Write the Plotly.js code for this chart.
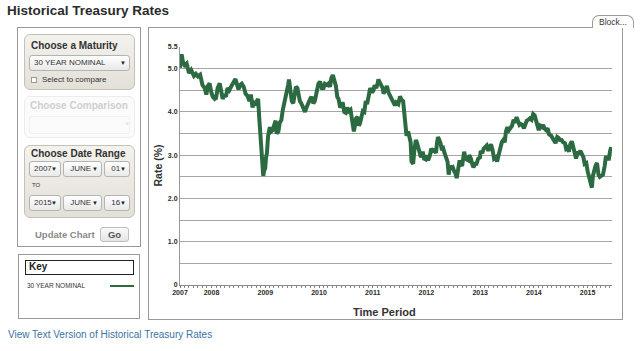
<!DOCTYPE html>
<html>
<head>
<meta charset="utf-8">
<script src="https://cdn.plot.ly/plotly-3.0.1.min.js"></script>
<style>
  html, body { margin:0; padding:0; background:#fff; }
  body { width:640px; height:351px; position:relative; overflow:hidden; font-family:"Liberation Sans", Arial, sans-serif; color:#333; }
  .abs { position:absolute; box-sizing:border-box; }
  #title { left:7px; top:3px; font-size:13.5px; font-weight:bold; color:#2b2b2b; white-space:nowrap; }
  #side { left:17px; top:27px; width:124px; height:220px; border:1px solid #9a9a9a; }
  #chartbox { left:148px; top:27px; width:475px; height:293px; border:1px solid #9a9a9a; }
  #tab { left:592px; top:15px; width:42px; height:13px; border:1px solid #9a9a9a; border-bottom:none; border-radius:7px 7px 0 0; background:#fff; font-size:8.5px; text-align:center; line-height:12px; color:#333; }
  .panel { border:1px solid #c4c1b8; border-radius:6px; background:linear-gradient(#f4f2ed,#e3e0d8); }
  .panel.off { border-color:#ececec; background:#fbfbfb; }
  .ph { font-size:10px; font-weight:bold; color:#333; white-space:nowrap; }
  .sel { border:1px solid #b4b4b4; border-radius:3px; background:linear-gradient(#ffffff,#e9e9e9); font-size:8px; line-height:14px; padding-left:4px; color:#333; white-space:nowrap; }
  .sel .ar { position:absolute; right:3px; top:0; font-size:6px; color:#222; }
  .small { font-size:8px; white-space:nowrap; color:#333; }
  #key { left:18px; top:254px; width:122px; height:65px; border:1px solid #9a9a9a; }
  #link { left:8px; top:329px; font-size:10px; color:#3a73a5; white-space:nowrap; }
  #plot { left:0; top:0; width:640px; height:351px; }
</style>
</head>
<body>
<div class="abs" id="title">Historical Treasury Rates</div>
<div class="abs" id="side"></div>
<div class="abs" id="chartbox"></div>
<div class="abs" id="tab">Block...</div>

<div class="abs panel" style="left:24px;top:34px;width:111px;height:56px;"></div>
<div class="abs ph" style="left:31px;top:40px;">Choose a Maturity</div>
<div class="abs sel" style="left:29px;top:55px;width:101px;height:16px;">30 YEAR NOMINAL<span class="ar">&#9660;</span></div>
<div class="abs" style="left:31px;top:77px;width:6px;height:6px;border:1px solid #999;background:#fff;"></div>
<div class="abs small" style="left:42px;top:75px;">Select to compare</div>

<div class="abs panel off" style="left:24px;top:96px;width:111px;height:42px;"></div>
<div class="abs ph" style="left:30px;top:100px;color:#cfcfcf;">Choose Comparison</div>
<div class="abs" style="left:29px;top:116px;width:101px;height:18px;border:1px solid #f0f0f0;border-radius:3px;"></div>
<div class="abs" style="left:124px;top:121px;font-size:6px;color:#e4e4e4;">&#9660;</div>

<div class="abs panel" style="left:24px;top:145px;width:111px;height:73px;"></div>
<div class="abs ph" style="left:31px;top:148px;">Choose Date Range</div>
<div class="abs sel" style="left:29px;top:161px;width:32px;height:16px;">2007<span class="ar">&#9660;</span></div>
<div class="abs sel" style="left:63px;top:161px;width:39px;height:16px;">&nbsp;JUNE<span class="ar">&#9660;</span></div>
<div class="abs sel" style="left:104px;top:161px;width:26px;height:16px;">&nbsp;01<span class="ar">&#9660;</span></div>
<div class="abs" style="left:32px;top:182px;font-size:6px;color:#333;">TO</div>
<div class="abs sel" style="left:29px;top:195px;width:32px;height:16px;">2015<span class="ar">&#9660;</span></div>
<div class="abs sel" style="left:63px;top:195px;width:39px;height:16px;">&nbsp;JUNE<span class="ar">&#9660;</span></div>
<div class="abs sel" style="left:104px;top:195px;width:26px;height:16px;">&nbsp;16<span class="ar">&#9660;</span></div>

<div class="abs" style="left:35px;top:229px;font-size:9.5px;font-weight:bold;color:#8a8a8a;white-space:nowrap;">Update Chart</div>
<div class="abs" style="left:100px;top:227px;width:29px;height:15px;border:1px solid #bdbdbd;border-radius:3px;background:linear-gradient(#fafafa,#e4e4e4);font-size:9.5px;font-weight:bold;color:#555;text-align:center;line-height:14px;">Go</div>

<div class="abs" id="key"></div>
<div class="abs" style="left:25px;top:260px;width:109px;height:15px;border:1.5px solid #222;"></div>
<div class="abs" style="left:29px;top:261px;font-size:10px;font-weight:bold;color:#222;">Key</div>
<div class="abs" style="left:27px;top:282px;font-size:6.5px;color:#333;white-space:nowrap;">30 YEAR NOMINAL</div>
<div class="abs" style="left:110px;top:285px;width:24px;height:2px;background:#2d6b41;"></div>

<div class="abs" id="link">View Text Version of Historical Treasury Rates</div>

<div class="abs" id="plot"></div>

<script>
// ---- data (30 year nominal, %) ----
const dates = [
'2007-06-01','2007-06-12','2007-06-22','2007-07-02','2007-07-16','2007-08-01','2007-08-16','2007-09-04','2007-09-17','2007-10-01','2007-10-16','2007-11-01','2007-11-16','2007-11-27','2007-12-07','2007-12-19','2007-12-31',
'2008-01-10','2008-01-23','2008-02-01','2008-02-12','2008-02-26','2008-03-06','2008-03-17','2008-03-28','2008-04-08','2008-04-19','2008-05-01','2008-05-16','2008-06-01','2008-06-12','2008-06-24','2008-07-03','2008-07-14','2008-07-25','2008-08-07','2008-08-20','2008-09-02','2008-09-15','2008-09-25','2008-10-06','2008-10-15','2008-10-28','2008-11-05','2008-11-13','2008-11-21','2008-11-28','2008-12-05','2008-12-12','2008-12-18','2008-12-24','2008-12-31',
'2009-01-06','2009-01-12','2009-01-20','2009-02-01','2009-02-10','2009-02-20','2009-03-03','2009-03-12','2009-03-19','2009-03-31','2009-04-09','2009-04-20','2009-04-30','2009-05-11','2009-05-26','2009-06-05','2009-06-11','2009-06-19','2009-06-30','2009-07-10','2009-07-20','2009-07-28','2009-08-07','2009-08-14','2009-08-24','2009-09-02','2009-09-15','2009-09-28','2009-10-08','2009-10-20','2009-11-02','2009-11-11','2009-11-23','2009-12-03','2009-12-14','2009-12-28',
'2010-01-08','2010-01-20','2010-02-01','2010-02-10','2010-02-24','2010-03-05','2010-03-17','2010-03-26','2010-04-05','2010-04-15','2010-04-26','2010-05-05','2010-05-14','2010-05-25','2010-06-04','2010-06-11','2010-06-22','2010-07-02','2010-07-12','2010-07-23','2010-08-03','2010-08-11','2010-08-20','2010-08-26','2010-09-03','2010-09-10','2010-09-20','2010-09-30','2010-10-08','2010-10-15','2010-10-26','2010-11-05','2010-11-15','2010-11-24','2010-12-06','2010-12-15','2010-12-28',
'2011-01-07','2011-01-14','2011-01-25','2011-02-03','2011-02-09','2011-02-18','2011-03-01','2011-03-10','2011-03-16','2011-03-30','2011-04-08','2011-04-18','2011-04-28','2011-05-10','2011-05-20','2011-06-01','2011-06-10','2011-06-24','2011-07-06','2011-07-15','2011-07-27','2011-08-04','2011-08-10','2011-08-19','2011-08-30','2011-09-08','2011-09-16','2011-09-22','2011-10-03','2011-10-11','2011-10-21','2011-10-28','2011-11-08','2011-11-17','2011-11-25','2011-12-07','2011-12-16','2011-12-28',
'2012-01-06','2012-01-13','2012-01-24','2012-02-03','2012-02-14','2012-02-24','2012-03-06','2012-03-14','2012-03-20','2012-03-29','2012-04-06','2012-04-16','2012-04-25','2012-05-03','2012-05-14','2012-05-24','2012-06-01','2012-06-08','2012-06-18','2012-06-28','2012-07-09','2012-07-17','2012-07-25','2012-08-03','2012-08-14','2012-08-22','2012-08-31','2012-09-14','2012-09-21','2012-10-01','2012-10-12','2012-10-19','2012-10-30','2012-11-09','2012-11-16','2012-11-28','2012-12-07','2012-12-18','2012-12-31',
'2013-01-04','2013-01-15','2013-01-25','2013-02-04','2013-02-14','2013-02-25','2013-03-07','2013-03-15','2013-03-26','2013-04-05','2013-04-16','2013-04-26','2013-05-06','2013-05-16','2013-05-28','2013-06-07','2013-06-17','2013-06-25','2013-07-05','2013-07-15','2013-07-26','2013-08-05','2013-08-16','2013-08-26','2013-09-05','2013-09-16','2013-09-25','2013-10-04','2013-10-15','2013-10-25','2013-11-04','2013-11-14','2013-11-25','2013-12-05','2013-12-16','2013-12-27',
'2014-01-06','2014-01-13','2014-01-24','2014-02-03','2014-02-13','2014-02-24','2014-03-05','2014-03-14','2014-03-25','2014-04-04','2014-04-15','2014-04-28','2014-05-08','2014-05-16','2014-05-28','2014-06-09','2014-06-18','2014-06-27','2014-07-08','2014-07-18','2014-07-31','2014-08-08','2014-08-15','2014-08-27','2014-09-05','2014-09-16','2014-09-26','2014-10-06','2014-10-15','2014-10-24','2014-11-03','2014-11-13','2014-11-24','2014-12-04','2014-12-12','2014-12-23',
'2015-01-02','2015-01-09','2015-01-16','2015-01-23','2015-01-30','2015-02-06','2015-02-13','2015-02-24','2015-03-06','2015-03-16','2015-03-25','2015-04-06','2015-04-16','2015-04-27','2015-05-06','2015-05-15','2015-05-26','2015-06-03','2015-06-10','2015-06-16'
];
const rates = [
5.02,5.33,5.14,5.08,5.12,4.90,4.97,4.83,4.88,4.82,4.86,4.62,4.55,4.40,4.60,4.66,4.45,
4.35,4.30,4.32,4.55,4.66,4.50,4.30,4.40,4.35,4.55,4.50,4.60,4.70,4.76,4.62,4.52,4.62,4.65,4.58,4.42,4.37,4.25,4.40,4.10,4.25,4.15,4.25,4.30,3.85,3.45,3.05,2.85,2.52,2.65,2.69,
2.95,3.05,3.45,3.65,3.55,3.58,3.70,3.80,3.50,3.55,3.75,3.81,4.05,4.20,4.50,4.62,4.75,4.45,4.25,4.20,4.45,4.58,4.55,4.40,4.25,4.20,4.12,4.00,4.10,4.23,4.30,4.35,4.20,4.25,4.45,4.65,
4.70,4.55,4.55,4.65,4.62,4.65,4.58,4.78,4.85,4.72,4.60,4.35,4.30,4.10,4.15,4.22,4.00,3.98,4.10,4.02,4.05,3.85,3.70,3.55,3.70,3.85,3.88,3.68,3.75,3.90,4.02,4.00,4.25,4.18,4.35,4.55,4.45,
4.50,4.62,4.55,4.65,4.75,4.68,4.60,4.55,4.42,4.54,4.60,4.45,4.38,4.30,4.25,4.15,4.22,4.18,4.36,4.28,4.25,3.90,3.62,3.45,3.55,3.35,3.30,2.85,2.80,3.10,3.35,3.30,3.12,3.00,2.95,3.08,2.92,2.90,
3.00,2.88,2.98,3.15,3.10,3.12,3.05,3.30,3.42,3.35,3.28,3.12,3.15,3.05,2.95,2.85,2.55,2.75,2.70,2.72,2.62,2.58,2.47,2.65,2.88,2.80,2.75,3.08,2.95,2.90,2.88,3.00,2.92,2.78,2.72,2.80,2.80,2.92,2.95,
3.10,3.05,3.15,3.18,3.22,3.10,3.20,3.25,3.12,2.92,2.95,2.85,3.00,3.15,3.30,3.35,3.30,3.55,3.65,3.58,3.62,3.68,3.82,3.75,3.88,3.78,3.70,3.72,3.70,3.62,3.70,3.80,3.82,3.85,3.82,3.95,
3.92,3.80,3.70,3.58,3.68,3.65,3.70,3.62,3.58,3.62,3.48,3.45,3.38,3.35,3.28,3.42,3.40,3.35,3.35,3.30,3.28,3.15,3.17,3.08,3.25,3.32,3.15,3.05,2.92,3.05,3.05,3.10,3.00,2.95,2.80,2.82,
2.62,2.50,2.45,2.35,2.25,2.52,2.65,2.75,2.82,2.55,2.50,2.52,2.55,2.75,2.98,2.92,2.92,3.10,3.18,3.08
];
const xTickVals = ['2007-06-01','2008-01-01','2009-01-01','2010-01-01','2011-01-01','2012-01-01','2013-01-01','2014-01-01','2015-01-01'];
const xTickText = ['2007','2008','2009','2010','2011','2012','2013','2014','2015'];
const yTickVals = [0,1,2,3,4,5,5.5];
const yTickText = ['0','1.0','2.0','3.0','4.0','5.0','5.5'];
const seriesName = '30 YEAR NOMINAL';
const xTitle = 'Time Period';
const yTitle = 'Rate (%)';

const trace = {
  x: dates, y: rates, type:'scatter', mode:'lines', name: seriesName,
  line:{color:'#2c6a42', width:4}
};
const FF = 'Liberation Sans, Arial, sans-serif';
const tickFont = {family:FF, size:7, color:'#2a2a2a', weight:'bold'};
const layout = {
  width:640, height:351,
  margin:{l:180, r:28, t:47, b:66, pad:0},
  paper_bgcolor:'rgba(0,0,0,0)', plot_bgcolor:'rgba(0,0,0,0)',
  showlegend:false,
  xaxis:{
    type:'date', range:['2007-06-01','2015-06-16'],
    tickmode:'array', tickvals:xTickVals, ticktext:xTickText,
    tickfont:tickFont, ticks:'outside', ticklen:2, tickcolor:'#777', ticklabelstandoff:-1,
    showgrid:false, zeroline:false,
    showline:true, linecolor:'#888', linewidth:1,
    minor:{dtick:'M1', tick0:'2007-06-01', ticks:'outside', ticklen:2, tickcolor:'#888', showgrid:false}
  },
  yaxis:{
    range:[0,5.5], tickmode:'array', tickvals:yTickVals, ticktext:yTickText,
    tickfont:tickFont, ticks:'', showgrid:true, gridcolor:'#a6a6a6', gridwidth:1,
    zeroline:false, showline:true, linecolor:'#999', linewidth:1,
    minor:{tick0:0, dtick:0.5, showgrid:true, gridcolor:'#a6a6a6', gridwidth:1, ticks:''}
  },
  annotations:[
    {text:xTitle, xref:'paper', yref:'paper', x:0.473, y:-0.112, xanchor:'center', yanchor:'middle', showarrow:false,
     font:{family:FF, size:11, color:'#333', weight:'bold'}},
    {text:yTitle, xref:'paper', yref:'paper', x:-0.052, y:0.50, xanchor:'center', yanchor:'middle', textangle:-90, showarrow:false,
     font:{family:FF, size:10.5, color:'#333', weight:'bold'}}
  ]
};
Plotly.newPlot('plot', [trace], layout, {displayModeBar:false, staticPlot:true});
</script>
</body>
</html>
